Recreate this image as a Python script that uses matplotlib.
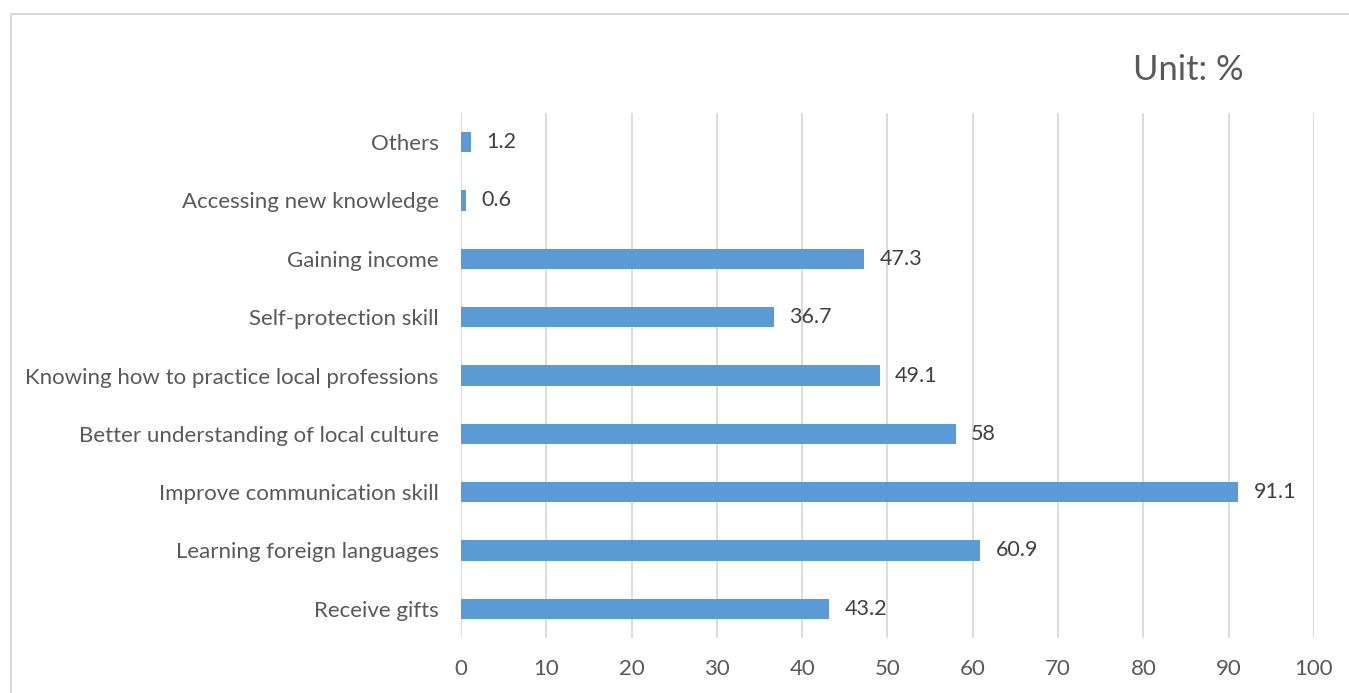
import matplotlib.pyplot as plt
from matplotlib.patches import Rectangle

categories = ['Receive gifts', 'Learning foreign languages', 'Improve communication skill',
              'Better understanding of local culture', 'Knowing how to practice local professions',
              'Self-protection skill', 'Gaining income', 'Accessing new knowledge', 'Others']
values = [43.2, 60.9, 91.1, 58, 49.1, 36.7, 47.3, 0.6, 1.2]
labels = ['43.2', '60.9', '91.1', '58', '49.1', '36.7', '47.3', '0.6', '1.2']

plt.rcParams['font.family'] = ['Lato', 'DejaVu Sans']

fig = plt.figure(figsize=(13.49, 6.93), dpi=100)
ax = fig.add_axes([461 / 1349, 1 - 638 / 693, (1314 - 461) / 1349, (638 - 113) / 693])

# outer chart frame
fig.patches.append(Rectangle((11 / 1349, -0.1), 1.2, 1 - 14 / 693 + 0.1,
                             transform=fig.transFigure, fill=False,
                             edgecolor='#d9d9d9', linewidth=1.5))

y = range(len(categories))
ax.barh(y, values, height=0.35, color='#5b9bd5', zorder=3)
for i, v in enumerate(values):
    ax.text(v + 1.8, i, labels[i], va='center', ha='left', fontsize=15.5, color='#404040')

ax.set_xlim(0, 100)
ax.set_ylim(-0.5, len(categories) - 0.5)
ax.set_xticks(range(0, 101, 10))
ax.set_yticks(list(y))
ax.set_yticklabels(categories)
ax.grid(axis='x', color='#d9d9d9', linewidth=1.3, zorder=0)
for s in ax.spines.values():
    s.set_visible(False)
ax.tick_params(axis='both', length=0, labelsize=16, colors='#595959')
ax.tick_params(axis='y', pad=16)
ax.tick_params(axis='x', pad=15)

fig.text(1133 / 1349, 1 - 70 / 693, 'Unit: %', fontsize=24.8, color='#595959',
         ha='left', va='center')

plt.savefig('out.png', dpi=100)
